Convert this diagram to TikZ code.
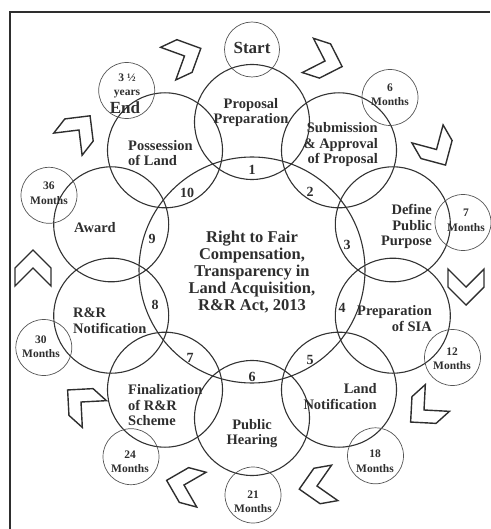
\documentclass[tikz,border=0pt]{standalone}
\usepackage{fontspec}
\setmainfont{Liberation Serif}
\definecolor{ink}{HTML}{2E2E2E}
\definecolor{ringc}{HTML}{333333}
\definecolor{timecol}{HTML}{555555}
\begin{document}
\begin{tikzpicture}[x=1pt,y=-1pt,
  stepc/.style={circle,draw=ringc,line width=1.1pt,minimum size=115pt,inner sep=0pt},
  timec/.style={circle,draw=timecol,line width=0.7pt,minimum size=56pt,inner sep=0pt},
  hubc/.style={circle,draw=ringc,line width=1.1pt,minimum size=226pt,inner sep=0pt},
  steptext/.style={font=\bfseries\fontsize{14.5}{15.5}\selectfont,text=ink,inner sep=0pt},
  numtext/.style={font=\bfseries\fontsize{14}{14}\selectfont,text=ink,inner sep=0pt},
  timetext/.style={font=\bfseries\fontsize{11.5}{14.5}\selectfont,text=ink,inner sep=0pt,align=center},
  bigtext/.style={font=\bfseries\fontsize{17}{17}\selectfont,text=ink,inner sep=0pt},
  hubtext/.style={font=\bfseries\fontsize{16.5}{17.2}\selectfont,text=ink,inner sep=0pt,align=center},
  chevstyle/.style={draw=ink,line width=1.4pt,line join=miter},
  chev/.pic={\path[chevstyle] (0,0) -- (-18,18) -- (0,18) -- (18,0) -- (0,-18) -- (-18,-18) -- cycle;}
]
\useasboundingbox (0,0) rectangle (490,529);
% frame (only top and left edges fall inside the picture)
\draw[ink,line width=1.8pt] (10,529) -- (10,12) -- (490,12);

% central circle
\node[hubc] (hub) at (252,270) {};
% step circles
\node[stepc] (s1) at (252,122) {};
\node[stepc] (s2) at (339,150.3) {};
\node[stepc] (s3) at (392.8,224.3) {};
\node[stepc] (s4) at (392.8,315.7) {};
\node[stepc] (s5) at (339,389.7) {};
\node[stepc] (s6) at (252,418) {};
\node[stepc] (s7) at (165,389.7) {};
\node[stepc] (s8) at (111.2,315.7) {};
\node[stepc] (s9) at (111.2,224.3) {};
\node[stepc] (s10) at (165,150.3) {};

% time circles
\node[timec,minimum size=55pt] (t0) at (252,49.5) {};
\node[timec] (t1) at (390,97.5) {};
\node[timec] (t2) at (463,222.5) {};
\node[timec] (t3) at (452.5,357.5) {};
\node[timec] (t4) at (375.5,455.8) {};
\node[timec] (t5) at (253,495) {};
\node[timec] (t6) at (131,456.7) {};
\node[timec] (t7) at (43.8,347.5) {};
\node[timec] (t8) at (49,195.3) {};
\node[timec] (t9) at (126.7,90.5) {};

% chevrons
\pic[rotate=25] at (184.5,56) {chev};
\pic[rotate=-18] at (325,61) {chev};
\pic[rotate=-60] at (436.5,149.5) {chev};
\pic[rotate=-90] at (466,287) {chev};
\pic[rotate=-138] at (424,410) {chev};
\pic[rotate=-170] at (317,486) {chev};
\pic[rotate=165] at (184,485) {chev};
\pic[rotate=138] at (81,402) {chev};
\pic[rotate=90] at (33,268) {chev};
\pic[rotate=52] at (79,130) {chev};

% hub text
\node[hubtext] (hubt) at (252,272) {Right to Fair\\Compensation,\\Transparency in\\Land Acquisition,\\R\&R Act, 2013};

% step texts
\node[steptext,align=center] (p1) at (251,112.5) {Proposal\\Preparation};
\node[steptext,align=right,anchor=east] (p2) at (378,145) {Submission\\\& Approval\\of Proposal};
\node[steptext,align=right,anchor=east] (p3) at (432,226.5) {Define\\Public\\Purpose};
\node[steptext,align=right,anchor=east] (p4) at (432,318.5) {Preparation\\of SIA};
\node[steptext,align=right,anchor=east] (p5) at (377,396.5) {Land\\Notification};
\node[steptext,align=center] (p6) at (252,433.5) {Public\\Hearing};
\node[steptext,align=left,anchor=west] (p7) at (128,405.5) {Finalization\\of R\&R\\Scheme};
\node[steptext,align=left,anchor=west] (p8) at (73,320.5) {R\&R\\Notification};
\node[steptext] (p9) at (95,227.5) {Award};
\node[steptext,align=left,anchor=west] (p10) at (128,153) {Possession\\of Land};

% numbers
\node[numtext] (n1) at (252,170) {1};
\node[numtext] (n2) at (310,192) {2};
\node[numtext] (n3) at (347,245) {3};
\node[numtext] (n4) at (342,308) {4};
\node[numtext] (n5) at (310,360) {5};
\node[numtext] (n6) at (252,377) {6};
\node[numtext] (n7) at (190,358) {7};
\node[numtext] (n8) at (155,305) {8};
\node[numtext] (n9) at (152,239) {9};
\node[numtext] (n10) at (187,193) {10};

% time texts
\node[bigtext] (st) at (252,47.5) {Start};
\node[timetext] (m1) at (390,95) {6\\Months};
\node[timetext] (m2) at (466,220.5) {7\\Months};
\node[timetext] (m3) at (452,358.5) {12\\Months};
\node[timetext] (m4) at (375,461) {18\\Months};
\node[timetext] (m5) at (253,501.5) {21\\Months};
\node[timetext] (m6) at (130,461.5) {24\\Months};
\node[timetext] (m7) at (41,346.5) {30\\Months};
\node[timetext] (m8) at (49,193) {36\\Months};
\node[timetext] (m9) at (127,86) {3 ½\\years};
\node[bigtext] (en) at (125,108) {End};
\end{tikzpicture}
\end{document}
